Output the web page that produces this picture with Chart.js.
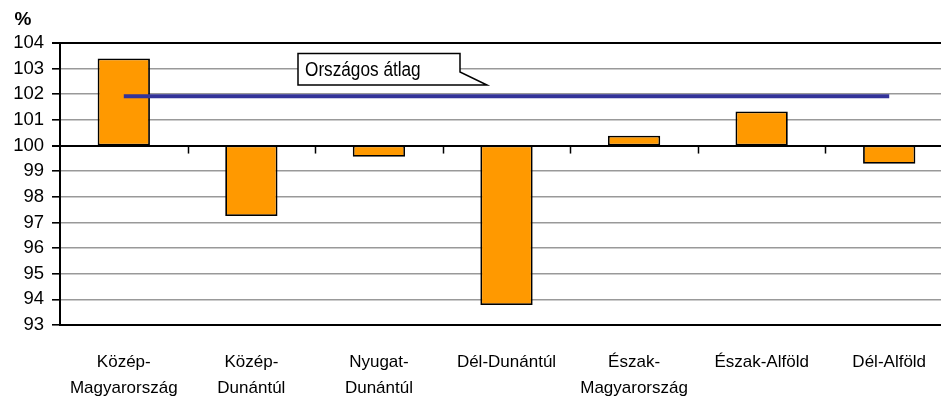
<!DOCTYPE html>
<html lang="hu">
<head>
<meta charset="UTF-8" />
<title>Regionális index</title>
<script src="https://cdn.jsdelivr.net/npm/chart.js"></script>
<style>
html, body { margin: 0; padding: 0; overflow: hidden; background: #fff; }
</style>
</head>
<body>
<canvas id="myChart" width="956" height="405"></canvas>
<script>
const regions = [
  ["Közép-", "Magyarország"],
  ["Közép-", "Dunántúl"],
  ["Nyugat-", "Dunántúl"],
  "Dél-Dunántúl",
  ["Észak-", "Magyarország"],
  "Észak-Alföld",
  "Dél-Alföld"
];
const values = [103.4, 97.25, 99.56, 93.78, 100.38, 101.33, 99.29];
const baseValue = 100;
const nationalAverage = [101.92, 101.92, 101.92, 101.92, 101.92, 101.92, 101.92];
const yTicks = [93, 94, 95, 96, 97, 98, 99, 100, 101, 102, 103, 104];

const FONT = "'Liberation Sans', Arial, sans-serif";

const extras = {
  id: "extras",
  afterDatasetsDraw(chart) {
    const ctx = chart.ctx;
    const x = chart.scales.x;
    const y = chart.scales.y;
    const y100 = y.getPixelForValue(baseValue);
    ctx.save();
    // tick marks on the 100 line
    ctx.strokeStyle = "#000";
    ctx.lineWidth = 1.5;
    for (let i = 1; i < regions.length; i++) {
      const bx = Math.round((x.getPixelForValue(i - 1) + x.getPixelForValue(i)) / 2) + 0.5;
      ctx.beginPath();
      ctx.moveTo(bx, y100);
      ctx.lineTo(bx, y100 + 8);
      ctx.stroke();
    }
    // callout
    ctx.fillStyle = "#fff";
    ctx.strokeStyle = "#000";
    ctx.lineWidth = 1.5;
    ctx.beginPath();
    ctx.moveTo(298, 53.5);
    ctx.lineTo(460, 53.5);
    ctx.lineTo(460, 72);
    ctx.lineTo(487, 85);
    ctx.lineTo(298, 85);
    ctx.closePath();
    ctx.fill();
    ctx.stroke();
    ctx.fillStyle = "#000";
    ctx.font = "20px " + FONT;
    ctx.textBaseline = "middle";
    ctx.textAlign = "left";
    ctx.save();
    ctx.translate(305, 70);
    ctx.scale(0.86, 1);
    ctx.fillText("Országos átlag", 0, 0);
    ctx.restore();
    // unit
    ctx.font = "bold 19px " + FONT;
    ctx.textAlign = "center";
    ctx.fillText("%", 23, 20);
    ctx.restore();
  }
};

const config = {
  data: {
    labels: regions,
    datasets: [
      {
        type: "line",
        label: "Országos átlag",
        data: nationalAverage,
        borderColor: "#333399",
        borderWidth: 4,
        pointRadius: 0,
        order: 0
      },
      {
        type: "bar",
        label: "Régiók",
        data: values.map(v => [baseValue, v]),
        backgroundColor: "#FF9900",
        borderColor: "#000",
        borderWidth: 1.8,
        borderSkipped: false,
        barPercentage: 0.41,
        categoryPercentage: 1,
        order: 1
      }
    ]
  },
  options: {
    responsive: false,
    animation: false,
    layout: { padding: { top: 43, right: 3, left: 0, bottom: 0 } },
    plugins: { legend: { display: false }, tooltip: { enabled: false } },
    scales: {
      x: {
        offset: true,
        grid: { display: false, drawTicks: false },
        border: { color: "#000", width: 2 },
        ticks: {
          color: "#000",
          padding: 24,
          maxRotation: 0,
          autoSkip: false,
          font: { family: FONT, size: 17, lineHeight: 1.53 }
        },
        afterFit(s) { s.height = 80; }
      },
      y: {
        min: 93,
        max: 104,
        afterBuildTicks(s) { s.ticks = yTicks.map(v => ({ value: v })); },
        grid: {
          color: c => (c.tick && (c.tick.value === 100 || c.tick.value === 104) ? "#000" : "#999999"),
          lineWidth: c => (c.tick && (c.tick.value === 100 || c.tick.value === 104) ? 2 : 1.6),
          tickColor: "#000",
          tickLength: 8
        },
        border: { color: "#000", width: 2 },
        ticks: {
          color: "#000",
          padding: 8,
          font: { family: FONT, size: 18.5 }
        },
        afterFit(s) { s.width = 60; }
      }
    }
  },
  plugins: [extras]
};

new Chart(document.getElementById("myChart"), config);
</script>
</body>
</html>
